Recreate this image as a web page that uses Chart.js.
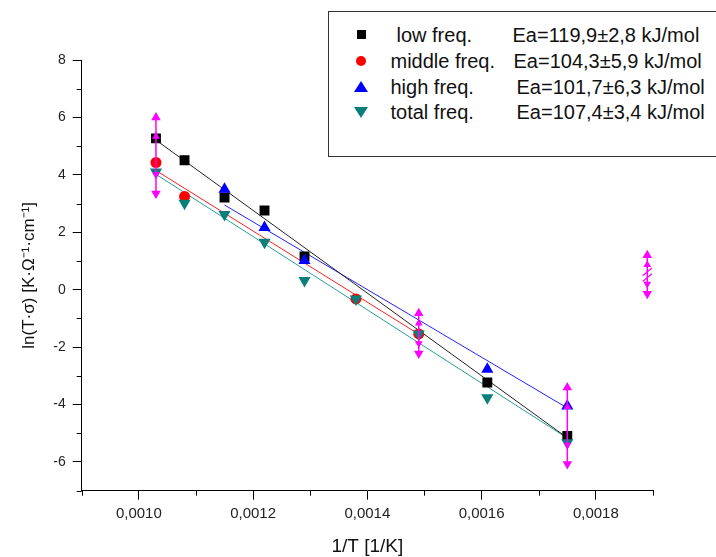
<!DOCTYPE html>
<html>
<head>
<meta charset="utf-8">
<script src="https://cdn.jsdelivr.net/npm/chart.js@4/dist/chart.umd.min.js"></script>
<style>
  body { margin: 0; background: #fff; }
  #wrap { position: relative; width: 716px; height: 557px; overflow: hidden; font-family: "Liberation Sans", Arial, sans-serif; }
  #legend { position: absolute; left: 328px; top: 11px; width: 420px; height: 146px; border: 1.5px solid #333; box-sizing: border-box; background: #fff; }
  .txt { position: absolute; font-size: 20px; line-height: 24px; color: #111; white-space: nowrap; }
  .mk { position: absolute; }
</style>
</head>
<body>
<div id="wrap">
  <canvas id="chart"></canvas>
  <div id="legend"></div>
</div>
<script>
// 1/T values [1/K] and ln(T*sigma) per frequency range
const xLow = [0.00103, 0.00108, 0.00115, 0.00122, 0.00129, 0.00161, 0.00175];
const yLow = [5.27, 4.51, 3.21, 2.76, 1.16, -3.23, -5.09];

const xMid = [0.00103, 0.00108, 0.00138, 0.00149];
const yMid = [4.43, 3.25, -0.32, -1.54];

const xHigh = [0.00115, 0.00122, 0.00129, 0.00161, 0.00175];
const yHigh = [3.50, 2.17, 1.02, -2.77, -4.05];

const xTot = [0.00103, 0.00108, 0.00115, 0.00122, 0.00129, 0.00138, 0.00149, 0.00161, 0.00175];
const yTot = [4.10, 3.01, 2.62, 1.65, 0.32, -0.32, -1.54, -3.76, -5.33];

// fit lines (end points)
const fitLowX = [0.00103, 0.00175], fitLowY = [5.21, -5.16];
const fitMidX = [0.00103, 0.00149], fitMidY = [4.15, -1.55];
const fitHighX = [0.00115, 0.00175], fitHighY = [2.95, -4.12];
const fitTotX = [0.00103, 0.00175], fitTotY = [4.02, -5.17];

// magenta error bars
const errX = [0.00103, 0.00149, 0.00175, 0.00189];
const errTop = [6.0, -0.82, -3.41, 1.2];
const errBot = [3.35, -2.22, -6.07, -0.14];

const xTicks = [0.0010, 0.0012, 0.0014, 0.0016, 0.0018];
const xMinor = [0.0009, 0.0011, 0.0013, 0.0015, 0.0017, 0.0019];
const yTicks = [-6, -4, -2, 0, 2, 4, 6, 8];
const yMinor = [-7, -5, -3, -1, 1, 3, 5, 7];

const legendRows = [
  { name: 'low freq.', ea: 'Ea=119,9±2,8 kJ/mol', nameX: 397, eaX: 513 },
  { name: 'middle freq.', ea: 'Ea=104,3±5,9 kJ/mol', nameX: 391, eaX: 514 },
  { name: 'high freq.', ea: 'Ea=101,7±6,3 kJ/mol', nameX: 391, eaX: 517 },
  { name: 'total freq.', ea: 'Ea=107,4±3,4 kJ/mol', nameX: 391, eaX: 517 }
];

function pts(xs, ys) { return xs.map((x, i) => ({ x: x, y: ys[i] })); }

const PINK = '#ff00ff';
const TEAL = '#0a7f7a';

const datasets = [];

// error bars on top
errX.forEach((x, i) => {
  const mid = (errTop[i] + errBot[i]) / 2;
  const q = (errTop[i] - errBot[i]) / 4;
  datasets.push({
    data: [{ x: x, y: errTop[i] }, { x: x, y: mid + q }, { x: x, y: mid - q }, { x: x, y: errBot[i] }],
    showLine: true, borderColor: PINK, borderWidth: 1.5, backgroundColor: PINK,
    pointStyle: 'triangle', pointRadius: [4, 3, 3, 4], rotation: [0, 0, 180, 180], clip: false
  });
});
// break marks on the outer bar
datasets.push({
  data: [{ x: errX[3], y: 0.62 }, { x: errX[3], y: 0.42 }],
  showLine: false, pointStyle: 'line', pointRadius: 6, rotation: -40,
  borderColor: PINK, borderWidth: 1.2
});

datasets.push({ label: 'total', data: pts(xTot, yTot), showLine: false, pointStyle: 'triangle', rotation: 180, pointRadius: 7, backgroundColor: TEAL, borderColor: TEAL, borderWidth: 0 });
datasets.push({ label: 'high', data: pts(xHigh, yHigh), showLine: false, pointStyle: 'triangle', pointRadius: 7, backgroundColor: '#0000ff', borderColor: '#0000ff', borderWidth: 0 });
datasets.push({ label: 'middle', data: pts(xMid, yMid), showLine: false, pointStyle: 'circle', pointRadius: 5.5, backgroundColor: '#ff0000', borderColor: '#ff0000', borderWidth: 0 });
datasets.push({ label: 'low', data: pts(xLow, yLow), showLine: false, pointStyle: 'rect', pointRadius: 7, backgroundColor: '#000', borderColor: '#000', borderWidth: 0 });

datasets.push({ data: pts(fitLowX, fitLowY), showLine: true, pointRadius: 0, borderColor: '#222', borderWidth: 1 });
datasets.push({ data: pts(fitMidX, fitMidY), showLine: true, pointRadius: 0, borderColor: '#ff2020', borderWidth: 1 });
datasets.push({ data: pts(fitHighX, fitHighY), showLine: true, pointRadius: 0, borderColor: '#2020ff', borderWidth: 1 });
datasets.push({ data: pts(fitTotX, fitTotY), showLine: true, pointRadius: 0, borderColor: '#2a9d9a', borderWidth: 1 });

// minor ticks (Origin style, shorter than the major ones)
const minorTicks = {
  id: 'minorTicks',
  afterDraw(chart) {
    const ctx = chart.ctx, xs = chart.scales.x, ys = chart.scales.y;
    ctx.save();
    ctx.strokeStyle = '#000';
    ctx.lineWidth = 1;
    ctx.beginPath();
    for (const v of xMinor) {
      const px = Math.round(xs.getPixelForValue(v)) + 0.5;
      ctx.moveTo(px, xs.top); ctx.lineTo(px, xs.top + 5);
    }
    for (const v of yMinor) {
      const py = Math.round(ys.getPixelForValue(v)) + 0.5;
      ctx.moveTo(ys.right - 5, py); ctx.lineTo(ys.right, py);
    }
    ctx.stroke();
    ctx.restore();
  }
};

const FONT = "'Liberation Sans', Arial, sans-serif";

new Chart(document.getElementById('chart').getContext('2d'), {
  type: 'scatter',
  data: { datasets: datasets },
  options: {
    responsive: true, maintainAspectRatio: false, animation: false,
    layout: { padding: { left: 0, right: 63, top: 60, bottom: 0 } },
    plugins: { legend: { display: false }, tooltip: { enabled: false } },
    scales: {
      x: {
        type: 'linear', min: 0.0009, max: 0.0019,
        afterBuildTicks: (s) => { s.ticks = xTicks.map(v => ({ value: v })); },
        afterFit: (s) => { s.height = 66.3; },
        border: { color: '#000', width: 1 },
        grid: { drawOnChartArea: false, tickLength: 9, tickColor: '#000' },
        ticks: { color: '#222', padding: 5, font: { family: FONT, size: 15 }, maxRotation: 0,
                 callback: (v) => v.toFixed(4).replace('.', ',') },
        title: { display: true, text: '1/T [1/K]', color: '#111', font: { family: FONT, size: 19 }, padding: { top: 0, bottom: -1 } }
      },
      y: {
        type: 'linear', min: -7, max: 8,
        afterBuildTicks: (s) => { s.ticks = yTicks.map(v => ({ value: v })); },
        afterFit: (s) => { s.width = 81.7; },
        border: { color: '#000', width: 1 },
        grid: { drawOnChartArea: false, tickLength: 9, tickColor: '#000' },
        ticks: { color: '#222', padding: 7, font: { family: FONT, size: 14 } },
        title: { display: true, text: 'ln(T·σ) [K·Ω⁻¹·cm⁻¹]', color: '#111', font: { family: FONT, size: 17 }, padding: { top: 19, bottom: 0 } }
      }
    }
  },
  plugins: [minorTicks]
});

// boxed legend with activation energies
const legend = document.getElementById('legend');
const rowY = [35, 61.7, 87.3, 112.7];
const markers = [
  'width:9px;height:9px;background:#000;',
  'width:10px;height:10px;border-radius:50%;background:#ff0000;',
  'width:0;height:0;border-left:7px solid transparent;border-right:7px solid transparent;border-bottom:11px solid #0000ff;',
  'width:0;height:0;border-left:7px solid transparent;border-right:7px solid transparent;border-top:11px solid ' + TEAL + ';'
];
const mkSize = [[9, 9], [10, 10], [14, 11], [14, 11]];
legendRows.forEach((r, i) => {
  const ox = 328 + 1.5, oy = 11 + 1.5;
  const m = document.createElement('div');
  m.className = 'mk';
  m.style.cssText = markers[i] + 'left:' + (361.7 - mkSize[i][0] / 2 - ox) + 'px;top:' + (rowY[i] - mkSize[i][1] / 2 - oy) + 'px;';
  legend.appendChild(m);
  const n = document.createElement('div');
  n.className = 'txt'; n.textContent = r.name;
  n.style.left = (r.nameX - ox) + 'px'; n.style.top = (rowY[i] - 12 - oy) + 'px';
  legend.appendChild(n);
  const e = document.createElement('div');
  e.className = 'txt'; e.textContent = r.ea;
  e.style.left = (r.eaX - ox) + 'px'; e.style.top = (rowY[i] - 12 - oy) + 'px';
  legend.appendChild(e);
});
</script>
</body>
</html>
